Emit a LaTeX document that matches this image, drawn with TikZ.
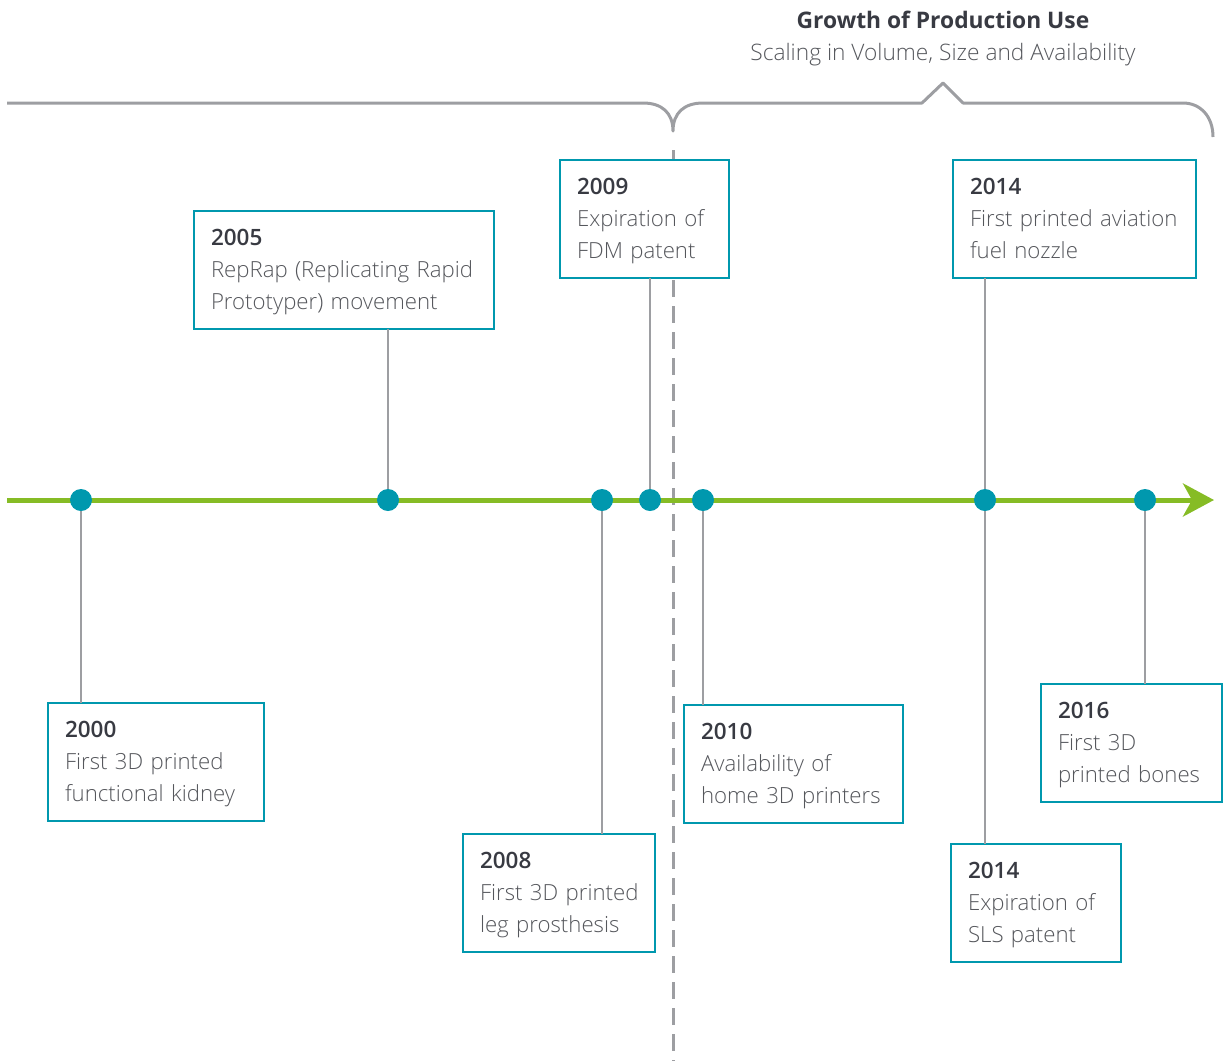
\documentclass[tikz,border=0pt]{standalone}
\usepackage{fontspec}
\setmainfont{Open Sans}
\newfontfamily\lightfont{Open Sans Light}
\usetikzlibrary{arrows.meta}
\definecolor{tealc}{HTML}{0098AE}
\definecolor{grn}{HTML}{86BC25}
\definecolor{gry}{HTML}{9D9EA2}
\definecolor{yrc}{HTML}{383A42}
\definecolor{bodyc}{HTML}{55575C}
\newcommand\tlentry[3]{\rule{0pt}{34pt}{\fontsize{22.5}{32}\selectfont\bfseries\color{yrc}#1}\\\mbox{#2}\\\mbox{#3}\rule[-20pt]{0pt}{20pt}}
\begin{document}
\begin{tikzpicture}[x=1pt,y=-1pt,
  box/.style={draw=tealc, line width=2.5pt, fill=white, anchor=north west,
    inner xsep=17pt, inner ysep=0pt, outer sep=0pt, align=left,
    font=\lightfont\fontsize{22.2}{32}\selectfont, text=bodyc},
  dot/.style={circle, fill=tealc, minimum size=22pt, inner sep=0pt, outer sep=0pt},
  conn/.style={draw=gry, line width=2.2pt},
  axis/.style={draw=grn, line width=5pt},
  brace/.style={draw=gry, line width=3pt, line join=round},
  era/.style={draw=gry, line width=3pt, dash pattern=on 17pt off 9pt},
]
\useasboundingbox (0,0) rectangle (1231,1061);

% titles
\node[font=\fontsize{22.8}{26}\selectfont\bfseries, text=yrc, anchor=base, inner sep=0pt] (title) at (943,28) {Growth of Production Use};
\node[font=\lightfont\fontsize{22.7}{26}\selectfont, text=bodyc, anchor=base, inner sep=0pt] (sub) at (943,60) {Scaling in Volume, Size and Availability};

% brace
\draw[brace] (7,103) -- (643,103) .. controls (662,103) and (673,113) .. (673,131)
  .. controls (673,113) and (684,103) .. (703,103) -- (922,103) -- (943,83) -- (963,103)
  -- (1183,103) .. controls (1200,103) and (1213,116) .. (1213,137);

% era divider
\coordinate (eraT) at (673,150);
\coordinate (eraB) at (673,1061);
\draw[era] (eraT) -- (eraB);

% boxes
\node[box, text width=266pt] (b2005) at (194,211) {\tlentry{2005}{RepRap (Replicating Rapid}{Prototyper) movement}};
\node[box, text width=135pt] (b2009) at (560,160) {\tlentry{2009}{Expiration of}{FDM patent}};
\node[box, text width=209pt] (b2014a) at (953,160) {\tlentry{2014}{First printed aviation}{fuel nozzle}};
\node[box, text width=182pt] (b2000) at (48,703) {\tlentry{2000}{First 3D printed}{functional kidney}};
\node[box, text width=158pt] (b2008) at (463,834) {\tlentry{2008}{First 3D printed}{leg prosthesis}};
\node[box, text width=185pt] (b2010) at (684,705) {\tlentry{2010}{Availability of}{home 3D printers}};
\node[box, text width=136pt] (b2014b) at (951,844) {\tlentry{2014}{Expiration of}{SLS patent}};
\node[box, text width=147pt] (b2016) at (1041,684) {\tlentry{2016}{First 3D}{printed bones}};

% axis
\coordinate (axL) at (7,500);
\coordinate (axR) at (1214,500);
\draw[axis, -{Stealth[length=31pt,width=33pt,inset=9pt]}] (axL) -- (axR);

% dots
\node[dot] (d2000) at (81,500) {};
\node[dot] (d2005) at (388,500) {};
\node[dot] (d2008) at (602,500) {};
\node[dot] (d2009) at (650,500) {};
\node[dot] (d2010) at (703,500) {};
\node[dot] (d2014) at (985,500) {};
\node[dot] (d2016) at (1145,500) {};

% connectors
\draw[conn] (d2005.north) -- (d2005 |- b2005.south);
\draw[conn] (d2009.north) -- (d2009 |- b2009.south);
\draw[conn] (d2014.north) -- (d2014 |- b2014a.south);
\draw[conn] (d2000.south) -- (d2000 |- b2000.north);
\draw[conn] (d2008.south) -- (d2008 |- b2008.north);
\draw[conn] (d2010.south) -- (d2010 |- b2010.north);
\draw[conn] (d2014.south) -- (d2014 |- b2014b.north);
\draw[conn] (d2016.south) -- (d2016 |- b2016.north);
\end{tikzpicture}
\end{document}
